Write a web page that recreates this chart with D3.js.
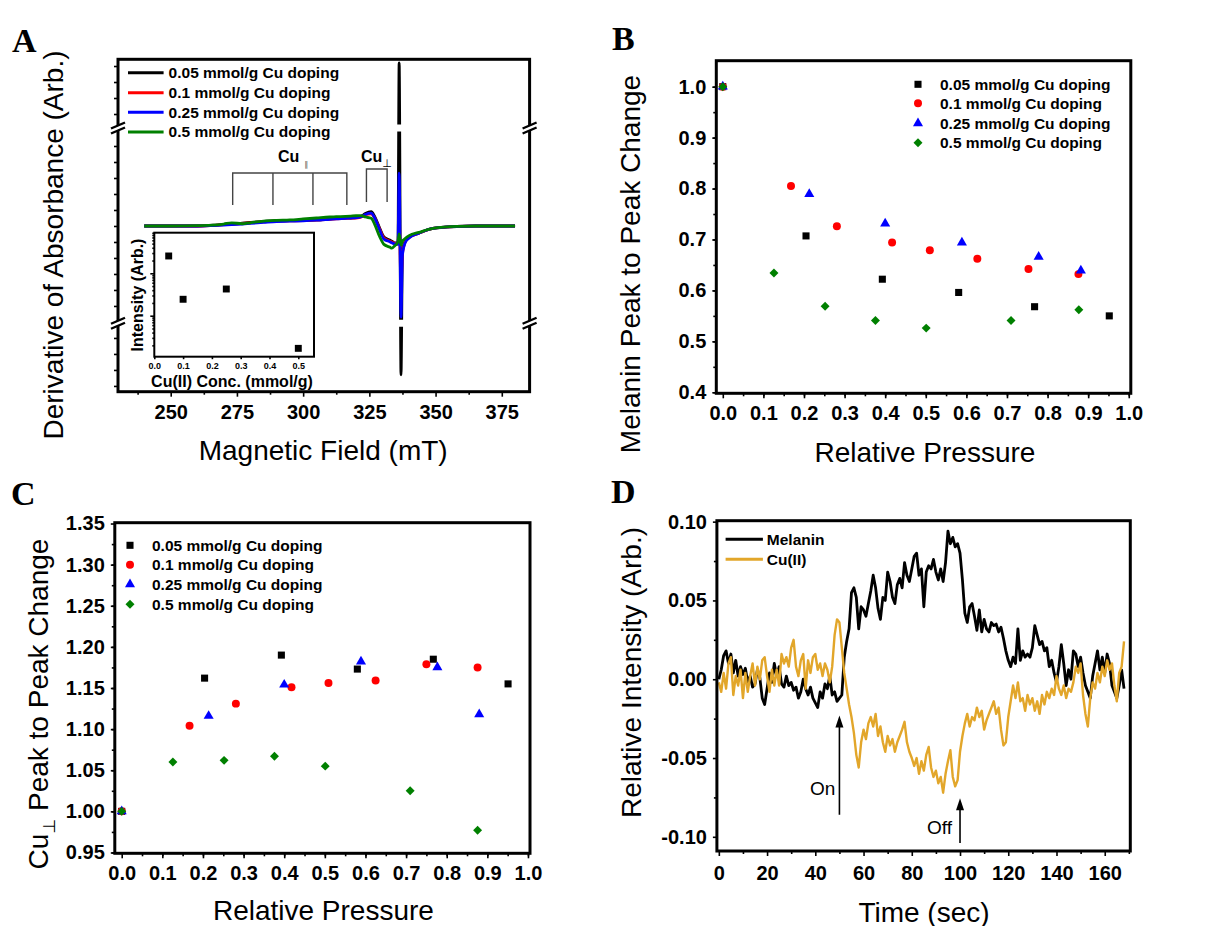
<!DOCTYPE html>
<html>
<head>
<meta charset="utf-8">
<title>Cu-doped melanin EPR</title>
<script src="https://cdn.jsdelivr.net/npm/d3@7"></script>
<style>
  body { margin: 0; background: #fff; }
  svg { display: block; background: #fff; }
</style>
</head>
<body>
<script>
const FONT = '"Liberation Sans", Arial, sans-serif';
const SERIF = '"Liberation Serif", "Times New Roman", serif';
const SYMFONT = '"DejaVu Sans", sans-serif';

// ---------- shared series info ----------
const dopingLabels = ["0.05 mmol/g Cu doping", "0.1 mmol/g Cu doping", "0.25 mmol/g Cu doping", "0.5 mmol/g Cu doping"];
const dopingColors = ["#000000", "#ff0000", "#0000ff", "#008000"];

// ---------- Panel A: EPR spectra (derivative, arb. units, baseline 0) ----------
const fieldA = [240, 250, 260, 266, 270, 273, 277, 280, 285, 290, 295, 300, 305, 310, 312.5, 316, 318, 320, 322, 323.5,
  325.7, 327, 328.9, 330.5, 332.7, 333.5, 334.5, 335.8, 336.25, 336.95, 337.5, 338.4, 340, 343.7, 349, 358, 365, 380];
const spec005 = [0, 0, 0, 0.05, 0.1, 0.12, 0.18, 0.22, 0.28, 0.33, 0.34, 0.34, 0.38, 0.44, 0.47, 0.5, 0.5, 0.52, 0.6, 0.78,
  0.9, 0.6, -0.13, -0.68, -0.88, -0.95, -1.05, -1.05, 10.2, -9.3, -1.6, -1.0, -0.7, -0.45, -0.15, -0.04, 0, 0];
const spec01 = [0, 0, 0, 0.04, 0.08, 0.1, 0.16, 0.2, 0.26, 0.3, 0.32, 0.33, 0.37, 0.42, 0.45, 0.48, 0.49, 0.5, 0.56, 0.7,
  0.76, 0.5, -0.2, -0.75, -0.95, -1.0, -1.08, -1.1, 0.7, -3.7, -1.7, -1.05, -0.72, -0.45, -0.15, -0.03, 0, 0];
const spec025 = [0, 0, 0, 0.03, 0.06, 0.08, 0.12, 0.16, 0.22, 0.28, 0.3, 0.32, 0.36, 0.42, 0.45, 0.48, 0.5, 0.52, 0.58, 0.72,
  0.8, 0.5, -0.25, -0.82, -0.98, -1.05, -1.12, -1.15, 3.3, -5.7, -1.8, -1.1, -0.75, -0.45, -0.15, -0.03, 0, 0];
const spec05 = [0, 0, 0.02, 0.05, 0.12, 0.2, 0.14, 0.2, 0.3, 0.35, 0.38, 0.44, 0.5, 0.56, 0.58, 0.6, 0.62, 0.64, 0.65, 0.56,
  0.48, 0.1, -0.67, -1.15, -1.32, -1.39, -1.25, -0.98, -0.5, -1.2, -0.95, -0.8, -0.6, -0.4, -0.15, -0.02, 0, 0];
const spectraA = [spec005, spec01, spec025, spec05];
const breaksA = [6.125, -6.08];
const cuParallelLines = [273.4, 288.6, 303.7, 316.5];
const cuPerpLines = [323.9, 331.7];

// inset
const insetConc = [0.05, 0.1, 0.25, 0.5];
const insetIntensity = [256, 24.4, 42.6, 1.7];

// ---------- Panel B: melanin peak-to-peak change ----------
const pressureB = [
  [0, 0.205, 0.393, 0.581, 0.768, 0.952],
  [0, 0.168, 0.281, 0.417, 0.510, 0.627, 0.753, 0.876],
  [0, 0.213, 0.400, 0.589, 0.778, 0.882],
  [0, 0.126, 0.252, 0.376, 0.501, 0.710, 0.877]
];
const melaninB = [
  [1.0, 0.707, 0.622, 0.596, 0.568, 0.550],
  [1.0, 0.805, 0.726, 0.694, 0.679, 0.662, 0.642, 0.632],
  [1.0, 0.789, 0.731, 0.694, 0.666, 0.639],
  [1.0, 0.634, 0.569, 0.541, 0.526, 0.541, 0.562]
];

// ---------- Panel C: Cu-perp peak-to-peak change ----------
const pressureC = [
  [0, 0.204, 0.393, 0.580, 0.767, 0.951],
  [0, 0.167, 0.281, 0.418, 0.509, 0.625, 0.750, 0.876],
  [0, 0.214, 0.400, 0.589, 0.777, 0.880],
  [0, 0.126, 0.252, 0.376, 0.501, 0.710, 0.876]
];
const cuPerpC = [
  [1.0, 1.162, 1.190, 1.173, 1.185, 1.155],
  [1.0, 1.104, 1.131, 1.151, 1.156, 1.159, 1.179, 1.175],
  [1.0, 1.116, 1.154, 1.182, 1.175, 1.118],
  [1.0, 1.060, 1.062, 1.067, 1.055, 1.025, 0.977]
];

// ---------- Panel D: time traces, one value per second (0..168 s) ----------
const melaninD = [
  0.000, 0.006, 0.015, 0.018, 0.010, 0.016, 0.004, 0.012, 0.002, 0.008,
  0.003, 0.007, -0.002, 0.002, -0.005, -0.003, 0.006, 0.001, -0.012, -0.016,
  -0.006, 0.004, -0.002, 0.010, 0.002, 0.008, -0.003, -0.005, 0.002, -0.004,
  -0.002, -0.007, -0.005, -0.012, -0.008, 0.000, -0.006, -0.010, -0.005, -0.012,
  -0.015, -0.018, -0.008, -0.012, -0.003, -0.006, 0.002, -0.010, -0.008, -0.014,
  -0.012, -0.010, 0.014, 0.024, 0.032, 0.055, 0.058, 0.052, 0.032, 0.046,
  0.044, 0.040, 0.048, 0.056, 0.066, 0.058, 0.045, 0.038, 0.052, 0.050,
  0.068, 0.062, 0.052, 0.048, 0.060, 0.064, 0.058, 0.074, 0.066, 0.062,
  0.070, 0.078, 0.080, 0.066, 0.070, 0.046, 0.068, 0.072, 0.070, 0.076,
  0.068, 0.063, 0.070, 0.062, 0.074, 0.094, 0.086, 0.090, 0.084, 0.086,
  0.080, 0.063, 0.042, 0.036, 0.046, 0.048, 0.040, 0.031, 0.044, 0.030,
  0.038, 0.032, 0.030, 0.036, 0.034, 0.035, 0.030, 0.033, 0.026, 0.018,
  0.012, 0.008, 0.014, 0.010, 0.032, 0.012, 0.018, 0.014, 0.016, 0.014,
  0.020, 0.034, 0.028, 0.022, 0.024, 0.018, 0.020, 0.008, 0.012, 0.004,
  -0.002, 0.008, 0.022, 0.010, -0.004, 0.006, 0.000, 0.018, 0.016, 0.008,
  0.014, 0.004, -0.004, -0.008, -0.012, 0.002, 0.010, 0.018, 0.006, 0.014,
  0.004, 0.016, 0.010, -0.004, -0.008, -0.012, -0.004, 0.006, -0.006
];
const cuD = [
  -0.002, -0.008, 0.004, -0.006, 0.010, 0.014, -0.010, 0.002, -0.004, 0.006,
  -0.012, 0.004, -0.008, 0.002, 0.010, -0.004, 0.008, 0.000, 0.012, 0.014,
  0.002, -0.008, 0.006, -0.004, 0.006, -0.004, 0.016, 0.010, 0.014, 0.008,
  0.020, 0.025, 0.008, 0.002, 0.012, 0.016, -0.006, 0.012, 0.004, 0.014,
  0.016, 0.006, 0.010, 0.002, 0.010, 0.006, -0.002, 0.008, 0.028, 0.038,
  0.036, 0.020, 0.004, -0.006, -0.016, -0.024, -0.034, -0.048, -0.056, -0.040,
  -0.032, -0.038, -0.028, -0.024, -0.030, -0.022, -0.036, -0.030, -0.040, -0.046,
  -0.036, -0.042, -0.038, -0.046, -0.040, -0.036, -0.032, -0.027, -0.040, -0.046,
  -0.050, -0.055, -0.050, -0.060, -0.052, -0.058, -0.048, -0.043, -0.056, -0.062,
  -0.058, -0.066, -0.062, -0.072, -0.060, -0.052, -0.045, -0.062, -0.068, -0.064,
  -0.046, -0.036, -0.028, -0.022, -0.030, -0.024, -0.026, -0.018, -0.024, -0.020,
  -0.032, -0.026, -0.022, -0.018, -0.014, -0.022, -0.018, -0.032, -0.042, -0.040,
  -0.024, -0.014, -0.004, -0.012, -0.002, -0.014, -0.012, -0.020, -0.010, -0.016,
  -0.012, -0.020, -0.014, -0.022, -0.010, -0.016, -0.008, -0.012, -0.006, -0.010,
  0.002, -0.006, -0.010, -0.004, -0.012, -0.006, -0.008, -0.002, 0.008, 0.004,
  0.010, -0.010, -0.022, -0.030, -0.012, -0.002, -0.006, 0.004, -0.002, 0.008,
  0.002, 0.012, 0.006, 0.010, -0.004, -0.014, 0.004, 0.008, 0.024
];
const timeD = d3.range(melaninD.length);
const traceLabels = ["Melanin", "Cu(II)"];
const traceColors = ["#000000", "#e2a62a"];
const arrowsD = [
  { label: "On", t: 50, tip: -0.023, tail: -0.086, textY: -0.069, gap: 4 },
  { label: "Off", t: 100, tip: -0.0755, tail: -0.104, textY: -0.094, gap: 8 }
];

// ---------- helpers ----------
const svg = d3.select("body").append("svg")
  .attr("width", 1206).attr("height", 926)
  .attr("font-family", FONT);

const TICK_FONT = 20;
const TITLE_FONT = 28;

function styleAxis(g, size) {
  g.attr("font-family", FONT).attr("font-size", size);
  g.select(".domain").remove();
  g.selectAll(".tick line").attr("stroke", "#000").attr("stroke-width", 1.6);
  g.selectAll(".tick text").attr("fill", "#000").attr("font-weight", "bold");
}

function drawAxes(x, y, o) {
  const yb = y.range()[0], xl = x.range()[0];
  if (o.xMinor) svg.append("g").attr("transform", `translate(0,${yb})`)
    .call(d3.axisBottom(x).tickValues(o.xMinor).tickSize(o.minorSize || 3).tickFormat(""))
    .call(styleAxis, 10);
  svg.append("g").attr("transform", `translate(0,${yb})`)
    .call(d3.axisBottom(x).tickValues(o.xMajor).tickSize(o.majorSize || 5).tickPadding(o.xPad || 8).tickFormat(o.xFmt || ""))
    .call(styleAxis, o.font || TICK_FONT);
  if (o.yMinor) svg.append("g").attr("transform", `translate(${xl},0)`)
    .call(d3.axisLeft(y).tickValues(o.yMinor).tickSize(o.minorSize || 3).tickFormat(""))
    .call(styleAxis, 10);
  svg.append("g").attr("transform", `translate(${xl},0)`)
    .call(d3.axisLeft(y).tickValues(o.yMajor).tickSize(o.majorSize || 4).tickPadding(o.yPad || 6).tickFormat(o.yFmt || ""))
    .call(styleAxis, o.font || TICK_FONT);
}

function frame(x, y, sw) {
  const [x0, x1] = x.range(), [y0, y1] = y.range();
  svg.append("rect").attr("x", x0).attr("y", y1).attr("width", x1 - x0).attr("height", y0 - y1)
    .attr("fill", "none").attr("stroke", "#000").attr("stroke-width", sw || 3);
}

function xTitle(cx, cy, text) {
  svg.append("text").attr("x", cx).attr("y", cy).attr("dy", "0.35em")
    .attr("text-anchor", "middle").attr("font-size", TITLE_FONT).text(text);
}

function yTitle(cx, cy, text) {
  return svg.append("text").attr("transform", `translate(${cx},${cy}) rotate(-90)`)
    .attr("y", 10).attr("text-anchor", "middle").attr("font-size", TITLE_FONT).text(text);
}

function panelLetter(x, y, letter) {
  svg.append("text").attr("x", x).attr("y", y).attr("font-family", SERIF)
    .attr("font-weight", "bold").attr("font-size", 34).text(letter);
}

const shapes = [d3.symbolSquare, d3.symbolCircle, d3.symbolTriangle, d3.symbolSquare];
const shapeSizes = [50, 50, 44, 40];
const shapeRot = [0, 0, 0, 45];

function scatter(x, y, xs, ys, i) {
  svg.append("g").selectAll("path").data(d3.zip(xs, ys)).join("path")
    .attr("d", d3.symbol(shapes[i], shapeSizes[i]))
    .attr("transform", d => `translate(${x(d[0])},${y(d[1])}) rotate(${shapeRot[i]})`)
    .attr("fill", dopingColors[i]);
}

function symbolLegend(mx, tx, rows) {
  dopingLabels.forEach((lab, i) => {
    svg.append("path").attr("d", d3.symbol(shapes[i], shapeSizes[i])())
      .attr("transform", `translate(${mx},${rows[i]}) rotate(${shapeRot[i]})`)
      .attr("fill", dopingColors[i]);
    svg.append("text").attr("x", tx).attr("y", rows[i]).attr("dy", "0.35em")
      .attr("font-size", 15.5).attr("font-weight", "bold").text(lab);
  });
}

function lineLegend(x0, x1, tx, rows, labels, colors) {
  labels.forEach((lab, i) => {
    svg.append("line").attr("x1", x0).attr("x2", x1).attr("y1", rows[i]).attr("y2", rows[i])
      .attr("stroke", colors[i]).attr("stroke-width", 3);
    svg.append("text").attr("x", tx).attr("y", rows[i]).attr("dy", "0.35em")
      .attr("font-size", 15.5).attr("font-weight", "bold").text(lab);
  });
}

const f1 = d => d.toFixed(1);
const f2 = d => d.toFixed(2);

// ================= Panel A =================
const xA = d3.scaleLinear().domain([230.1, 385.5]).range([118, 529.6]);
const yA = d3.scaleLinear().domain([-10.36, 10.42]).range([391.7, 59.3]);

const lineA = d3.line().x(d => xA(d[0])).y(d => yA(d[1])).curve(d3.curveMonotoneX);
spectraA.forEach((s, i) => {
  svg.append("path").datum(d3.zip(fieldA, s)).attr("d", lineA)
    .attr("fill", "none").attr("stroke", dopingColors[i]).attr("stroke-width", 2.8)
    .attr("stroke-linejoin", "round");
});

// white gaps in the spike where the axis is broken
breaksA.forEach(b => {
  svg.append("rect").attr("x", xA(335.2)).attr("width", xA(338.2) - xA(335.2))
    .attr("y", yA(b) - 3.5).attr("height", 7).attr("fill", "#fff");
});

// Cu parallel / perpendicular brackets
const bracket = (vals, top, bot) => {
  svg.append("path").attr("fill", "none").attr("stroke", "#444").attr("stroke-width", 1.4)
    .attr("d", () => {
      const p = d3.path();
      p.moveTo(xA(vals[0]), yA(bot)); p.lineTo(xA(vals[0]), yA(top));
      p.lineTo(xA(vals[vals.length - 1]), yA(top)); p.lineTo(xA(vals[vals.length - 1]), yA(bot));
      vals.slice(1, -1).forEach(v => { p.moveTo(xA(v), yA(top)); p.lineTo(xA(v), yA(bot)); });
      return p.toString();
    });
};
bracket(cuParallelLines, 3.31, 1.31);
bracket(cuPerpLines, 3.56, 1.5);

const cuPar = svg.append("text").attr("x", xA(290.5)).attr("y", yA(4.02))
  .attr("font-size", 16).attr("font-weight", "bold").text("Cu");
cuPar.append("tspan").attr("dx", 5).attr("dy", 5).attr("font-size", 8).attr("font-weight", "normal")
  .attr("font-family", SYMFONT).attr("fill", "#555").text("∥");
const cuPerp = svg.append("text").attr("x", xA(321.8)).attr("y", yA(4.02))
  .attr("font-size", 16).attr("font-weight", "bold").text("Cu");
cuPerp.append("tspan").attr("dx", 0).attr("dy", 5).attr("font-size", 11).attr("font-weight", "normal")
  .attr("font-family", SYMFONT).text("⊥");

// axes A
const aMinor = d3.range(237.5, 385, 25);
drawAxes(xA, yA, {
  xMajor: d3.range(250, 376, 25), xMinor: aMinor, xFmt: d => d,
  yMajor: d3.range(-10, 11).filter(v => Math.abs(v) !== 6), yFmt: () => ""
});
frame(xA, yA, 3);

// axis break marks on both sides
breaksA.forEach(b => {
  xA.range().forEach(xp => {
    const yp = yA(b);
    svg.append("polygon")
      .attr("points", `${xp - 7},${yp + 1} ${xp + 7},${yp - 5} ${xp + 7},${yp - 1} ${xp - 7},${yp + 5}`)
      .attr("fill", "#fff");
    [-0.5, 4.5].forEach(o => {
      svg.append("line").attr("x1", xp - 7).attr("y1", yp + o + 1).attr("x2", xp + 7).attr("y2", yp + o - 5)
        .attr("stroke", "#000").attr("stroke-width", 2.4);
    });
  });
});

// legend A
lineLegend(128, 163.6, 168.6, [72.7, 92.7, 112.3, 132], dopingLabels, dopingColors);

// inset
const xI = d3.scaleLinear().domain([0, 0.5545]).range([154.3, 314]);
const yI = d3.scaleLog().domain([1.08, 906]).range([356.7, 232.7]);
svg.append("rect").attr("x", 154.3).attr("y", 232.7).attr("width", 314 - 154.3).attr("height", 356.7 - 232.7)
  .attr("fill", "#fff");
svg.append("g").attr("transform", `translate(0,${yI.range()[0]})`)
  .call(d3.axisBottom(xI).tickValues(d3.range(0, 0.51, 0.1)).tickSize(2.5).tickPadding(3).tickFormat(f1))
  .call(styleAxis, 9);
svg.append("g").attr("transform", `translate(${xI.range()[0]},0)`)
  .call(d3.axisLeft(yI).tickValues(yI.ticks().filter(v => Math.log10(v) % 1 !== 0)).tickSize(2).tickFormat(""))
  .call(styleAxis, 9);
svg.append("g").attr("transform", `translate(${xI.range()[0]},0)`)
  .call(d3.axisLeft(yI).tickValues([10, 100]).tickSize(4).tickFormat(""))
  .call(styleAxis, 9);
svg.append("g").selectAll("path").data(d3.zip(insetConc, insetIntensity)).join("path")
  .attr("d", d3.symbol(d3.symbolSquare, 48))
  .attr("transform", d => `translate(${xI(d[0])},${yI(d[1])})`);
frame(xI, yI, 2);
svg.append("text").attr("x", 232).attr("y", 381).attr("dy", "0.35em").attr("text-anchor", "middle")
  .attr("font-size", 16).attr("font-weight", "bold").text("Cu(II) Conc. (mmol/g)");
svg.append("text").attr("transform", "translate(137.7,295) rotate(-90)").attr("y", 5.5)
  .attr("text-anchor", "middle").attr("font-size", 16).attr("font-weight", "bold").text("Intensity (Arb.)");

yTitle(52.9, 245, "Derivative of Absorbance (Arb.)");
xTitle(323.2, 450, "Magnetic Field (mT)");
panelLetter(12, 52, "A");

// ================= Panel B =================
const xB = d3.scaleLinear().domain([-0.016, 1.005]).range([716.3, 1130.8]);
const yB = d3.scaleLinear().domain([0.398, 1.051]).range([393.3, 60.7]);
drawAxes(xB, yB, {
  xMajor: d3.range(0, 11).map(d => d / 10), xMinor: d3.range(0, 20).map(d => d / 20 + 0.05), xFmt: f1,
  yMajor: d3.range(4, 11).map(d => d / 10), yMinor: d3.range(8, 21).map(d => d / 20), yFmt: f1
});
pressureB.forEach((xs, i) => scatter(xB, yB, xs, melaninB[i], i));
frame(xB, yB, 3);
symbolLegend(918, 940, [84.3, 103.3, 123.3, 142.7]);
yTitle(630, 264, "Melanin Peak to Peak Change");
xTitle(924.9, 451.7, "Relative Pressure");
panelLetter(612, 50, "B");

// ================= Panel C =================
const xC = d3.scaleLinear().domain([-0.017, 1.005]).range([114.8, 530]);
const yC = d3.scaleLinear().domain([0.949, 1.351]).range([853.3, 522.7]);
drawAxes(xC, yC, {
  xMajor: d3.range(0, 11).map(d => d / 10), xMinor: d3.range(0, 20).map(d => d / 20 + 0.05), xFmt: f1,
  yMajor: d3.range(19, 28).map(d => d / 20), yMinor: d3.range(38, 54).map(d => d / 40), yFmt: f2
});
pressureC.forEach((xs, i) => scatter(xC, yC, xs, cuPerpC[i], i));
frame(xC, yC, 3);
symbolLegend(130, 152, [545.3, 564.7, 584.3, 604.3]);
const tC = yTitle(38.3, 704, "Cu");
tC.append("tspan").attr("dy", 7).attr("font-size", 17).attr("font-family", SYMFONT).text("⊥");
tC.append("tspan").attr("dy", -7).text(" Peak to Peak Change");
xTitle(323.4, 910.5, "Relative Pressure");
panelLetter(11, 505, "C");

// ================= Panel D =================
const xD = d3.scaleLinear().domain([-0.8, 170.6]).range([716.9, 1130.3]);
const yD = d3.scaleLinear().domain([-0.109, 0.1006]).range([851, 520.7]);
drawAxes(xD, yD, {
  xMajor: d3.range(0, 161, 20), xMinor: d3.range(10, 171, 20), xFmt: d => d, xPad: 10,
  yMajor: [-0.1, -0.05, 0, 0.05, 0.1], yMinor: [-0.075, -0.025, 0.025, 0.075], yFmt: f2
});
const lineD = d3.line().x(d => xD(d[0])).y(d => yD(d[1]));
svg.append("path").datum(d3.zip(timeD, melaninD)).attr("d", lineD)
  .attr("fill", "none").attr("stroke", traceColors[0]).attr("stroke-width", 2.8).attr("stroke-linejoin", "round");
svg.append("path").datum(d3.zip(timeD, cuD)).attr("d", lineD)
  .attr("fill", "none").attr("stroke", traceColors[1]).attr("stroke-width", 2.4).attr("stroke-linejoin", "round");
frame(xD, yD, 3);
lineLegend(725.6, 762.9, 766.8, [539.3, 559.3], traceLabels, traceColors);

arrowsD.forEach(a => {
  const ax = xD(a.t), tip = yD(a.tip), tail = yD(a.tail);
  svg.append("line").attr("x1", ax).attr("x2", ax).attr("y1", tail).attr("y2", tip + 8)
    .attr("stroke", "#000").attr("stroke-width", 1.6);
  svg.append("path").attr("d", `M${ax},${tip}L${ax - 4},${tip + 12}L${ax + 4},${tip + 12}Z`).attr("fill", "#000");
  svg.append("text").attr("x", ax - a.gap).attr("y", yD(a.textY)).attr("dy", "0.35em")
    .attr("text-anchor", "end").attr("font-size", 19).text(a.label);
});

yTitle(631.3, 672.5, "Relative Intensity (Arb.)");
xTitle(924, 911.7, "Time (sec)");
panelLetter(611, 503, "D");
</script>
</body>
</html>
